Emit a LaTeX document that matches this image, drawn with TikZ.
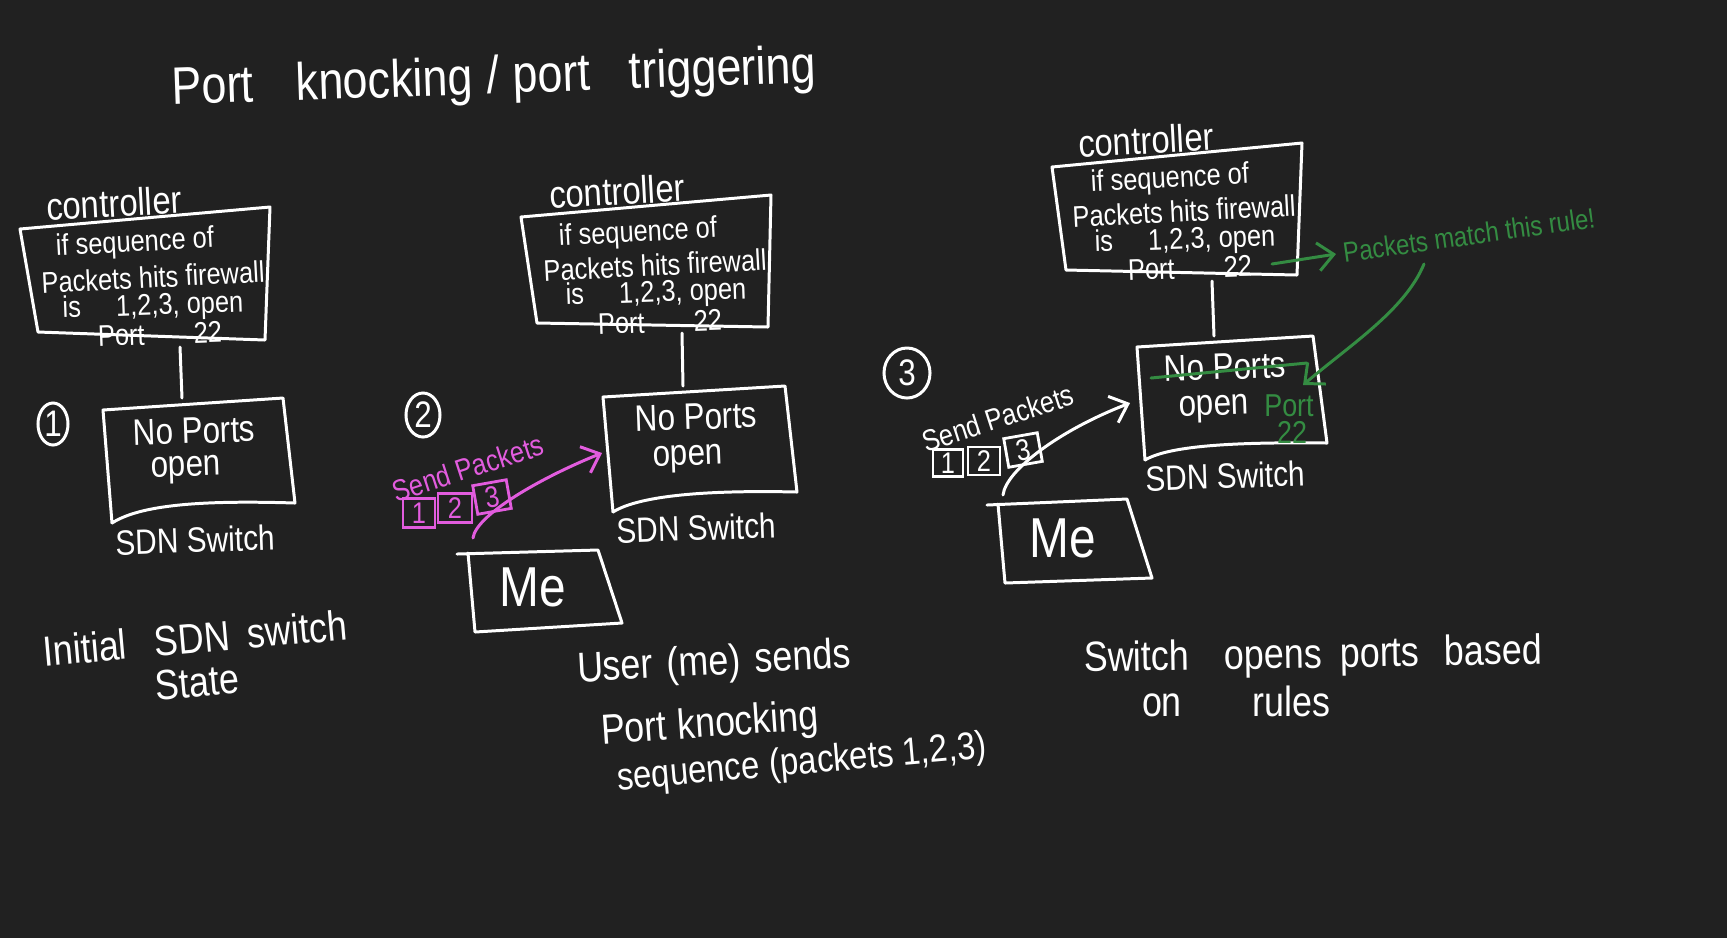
\documentclass[tikz,border=0pt]{standalone}
\usepackage{fontspec}
\newfontfamily\hand[FakeStretch=0.85]{Liberation Sans}
\usetikzlibrary{arrows.meta,shapes.geometric}
\definecolor{bg}{RGB}{33,33,33}
\definecolor{kgreen}{RGB}{52,140,66}
\definecolor{kpink}{RGB}{226,92,222}
\tikzset{
  hw/.style={text=white, inner sep=0pt, font=\hand\fontsize{#1}{#1}\selectfont},
  sketch/.style={draw=white, line width=0.85pt, line join=round, line cap=round},
  pbox/.style={draw=#1, text=#1, line width=0.8pt, inner sep=0pt, minimum width=0.32cm, minimum height=0.29cm, font=\hand\fontsize{8.5}{8.5}\selectfont},
  tipv/.style={-{Straight Barb[length=4.5pt,width=8pt]}, line width=0.85pt, line cap=round},
  numc/.style={draw=white, ellipse, line width=0.85pt, inner sep=0pt, text=white, font=\hand\fontsize{10.5}{10.5}\selectfont}
}
\begin{document}
\begin{tikzpicture}[x=0.01cm,y=-0.01cm]
\useasboundingbox (0,0) rectangle (1727,938);
\fill[bg] (0,0) rectangle (1727,938);

% title
\node[hw=15, rotate=2] (title) at (494,80) {Port\hspace{12pt}knocking\hspace{4pt}/\hspace{4pt}port\hspace{11pt}triggering};

% ================= panel 1
\node[hw=11, rotate=3] (ctl1) at (114,203) {controller};
\draw[sketch] (20,229) -- (270,207) -- (265,340) -- (38,332) -- cycle;
\node[hw=8.5, rotate=3] (r1a) at (135,244) {if sequence of};
\node[hw=8.5, rotate=3] (r1b) at (153,277) {Packets hits firewall};
\node[hw=8.5, rotate=2] (r1c) at (153,307) {is\hspace{10pt}1,2,3, open};
\node[hw=8.5, rotate=2] (r1d) at (160,334) {Port\hspace{14pt}22};
\coordinate (c1s) at (180,347);
\coordinate (s1n) at (182,398);
\draw[sketch] (c1s) -- (s1n);
\draw[sketch] (112,523) -- (103,410) -- (283,398) -- (295,503) .. controls (200,500) and (140,505) .. (112,523);
\node[hw=10.5, rotate=2] (s1a) at (194,431) {No Ports};
\node[hw=10.5, rotate=2] (s1b) at (186,470) {open};
\node[hw=10, rotate=2] (s1l) at (195,540) {SDN Switch};
\node[numc, minimum width=0.3cm, minimum height=0.42cm] (n1) at (53,424) {1};
\node[hw=12, rotate=5] (cap1a) at (195,638) {Initial\hspace{8pt}SDN\hspace{5pt}switch};
\node[hw=12, rotate=5] (cap1b) at (197,682) {State};

% ================= panel 2
\node[hw=11, rotate=3] (ctl2) at (617,191) {controller};
\draw[sketch] (521,217) -- (771,195) -- (768,327) -- (537,323) -- cycle;
\node[hw=8.5, rotate=3] (r2a) at (638,234) {if sequence of};
\node[hw=8.5, rotate=3] (r2b) at (655,265) {Packets hits firewall};
\node[hw=8.5, rotate=2] (r2c) at (656,294) {is\hspace{10pt}1,2,3, open};
\node[hw=8.5, rotate=2] (r2d) at (660,322) {Port\hspace{14pt}22};
\coordinate (c2s) at (682,333);
\coordinate (s2n) at (683,386);
\draw[sketch] (c2s) -- (s2n);
\draw[sketch] (613,512) -- (603,397) -- (785,386) -- (797,492) .. controls (710,490) and (640,495) .. (613,512);
\node[hw=10.5, rotate=2] (s2a) at (696,417) {No Ports};
\node[hw=10.5, rotate=2] (s2b) at (688,459) {open};
\node[hw=10, rotate=2] (s2l) at (696,528) {SDN Switch};
\node[numc, minimum width=0.34cm, minimum height=0.44cm] (n2) at (423,415) {2};
\node[hw=8.5, text=kpink, rotate=18] (sp2) at (468,468) {Send Packets};
\node[pbox=kpink] (b21) at (419,513) {1};
\node[pbox=kpink, minimum width=0.34cm] (b22) at (455,508) {2};
\node[pbox=kpink, minimum width=0.34cm, rotate=10] (b23) at (492,497) {3};
\draw[sketch] (457,554) -- (598,550) -- (622,623) -- (475,632) -- (468,553);
\node[hw=16] (me2) at (533,587) {Me};
\coordinate (a2s) at (473,538);
\coordinate (a2e) at (602,453);
\draw[kpink, tipv] (a2s) .. controls (476,515) and (540,478) .. (a2e);
\node[hw=12, rotate=3] (cap2a) at (714,664) {User\hspace{4pt}(me)\hspace{4pt}sends};
\node[hw=12, rotate=4] (cap2b) at (710,726) {Port\hspace{3pt}knocking};
\node[hw=11, rotate=5] (cap2c) at (802,764) {sequence\hspace{3pt}(packets 1,2,3)};

% ================= panel 3
\node[hw=11, rotate=3] (ctl3) at (1146,140) {controller};
\draw[sketch] (1052,167) -- (1302,143) -- (1297,275) -- (1066,270) -- cycle;
\node[hw=8.5, rotate=3] (r3a) at (1170,180) {if sequence of};
\node[hw=8.5, rotate=3] (r3b) at (1184,211) {Packets hits firewall};
\node[hw=8.5, rotate=2] (r3c) at (1185,241) {is\hspace{10pt}1,2,3, open};
\node[hw=8.5, rotate=2] (r3d) at (1190,268) {Port\hspace{14pt}22};
\coordinate (c3s) at (1212,281);
\coordinate (s3n) at (1214,336);
\draw[sketch] (c3s) -- (s3n);
\draw[sketch] (1145,460) -- (1137,347) -- (1313,336) -- (1327,443) .. controls (1240,442) and (1170,445) .. (1145,460);
\node[hw=10.5, rotate=2] (s3a) at (1225,367) {No Ports};
\draw[kgreen, line width=0.85pt, line cap=round] (1151,378) -- (1307,363);
\node[hw=10.5, rotate=2] (s3b) at (1214,409) {open};
\node[hw=9, text=kgreen] (g3a) at (1289,406) {Port};
\node[hw=9, text=kgreen] (g3b) at (1292,432) {22};
\node[hw=10, rotate=2] (s3l) at (1225,476) {SDN Switch};
\node[numc, minimum width=0.46cm, minimum height=0.5cm] (n3) at (907,373) {3};
\node[hw=8.5, rotate=18] (sp3) at (998,418) {Send Packets};
\node[pbox=white, minimum width=0.3cm, minimum height=0.27cm] (b31) at (948,463) {1};
\node[pbox=white, minimum width=0.32cm, minimum height=0.28cm] (b32) at (984,461) {2};
\node[pbox=white, minimum width=0.34cm, rotate=10] (b33) at (1023,450) {3};
\draw[sketch] (987,505) -- (1127,499) -- (1152,578) -- (1005,583) -- (998,504);
\node[hw=16] (me3) at (1063,538) {Me};
\coordinate (a3s) at (1003,495);
\coordinate (a3e) at (1130,403);
\draw[white, tipv] (a3s) .. controls (1006,470) and (1060,430) .. (a3e);
\coordinate (g1s) at (1272,264);
\coordinate (g1e) at (1336,254);
\draw[kgreen, tipv] (g1s) -- (g1e);
\node[hw=8, text=kgreen, rotate=8] (pm) at (1469,235) {Packets match this rule!};
\coordinate (g2s) at (1424,264);
\coordinate (g2e) at (1303,385);
\draw[kgreen, tipv] (g2s) .. controls (1405,310) and (1350,345) .. (g2e);
\node[hw=12, rotate=1] (cap3a) at (1313,657) {Switch\hspace{10pt}opens\hspace{5pt}ports\hspace{7pt}based};
\node[hw=12] (cap3b) at (1236,701) {on\hspace{20pt}rules};
\end{tikzpicture}
\end{document}
